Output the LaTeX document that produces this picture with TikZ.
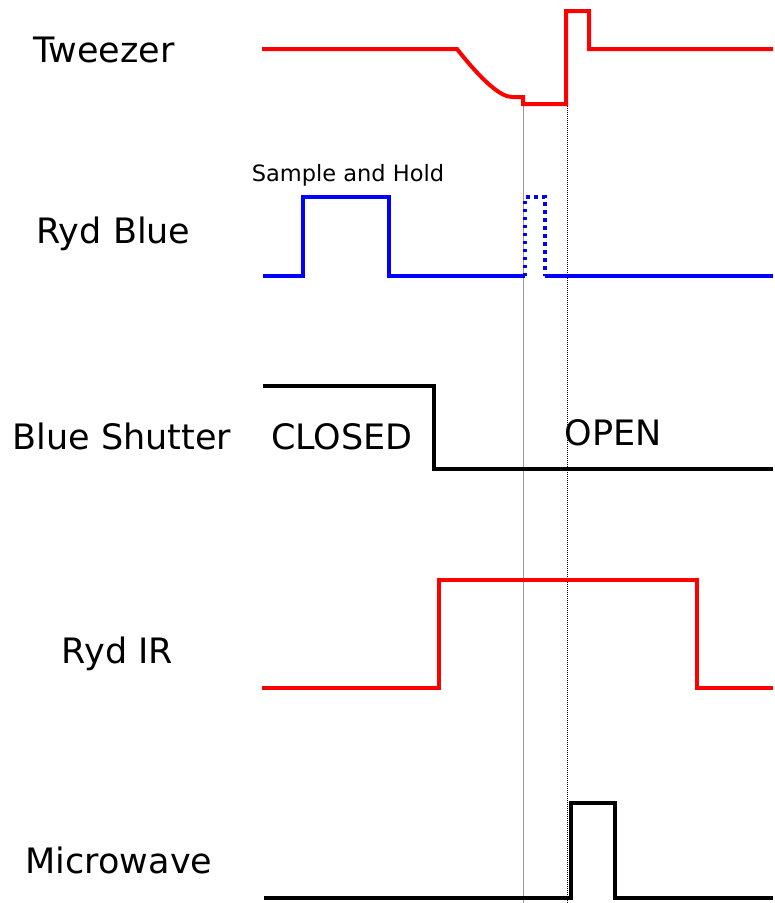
\documentclass[tikz,border=0pt]{standalone}
\usepackage{fontspec}
\setmainfont{DejaVu Sans}
\begin{document}
\begin{tikzpicture}[x=1pt,y=-1pt,
  trace/.style={line width=4pt, line join=miter},
  lbl/.style={font=\fontsize{35}{40}\selectfont, inner sep=0pt, anchor=base},
  small/.style={font=\fontsize{22.5}{26}\selectfont, inner sep=0pt, anchor=base},
  graymark/.style={line width=0.9pt, draw=black!40},
  dotmark/.style={line width=0.9pt, draw=black, dash pattern=on 1pt off 1pt}]
\useasboundingbox (0,0) rectangle (775,903);

% labels
\node[lbl] (tw) at (104,62) {Tweezer};
\node[lbl] (rb) at (113.5,243) {Ryd Blue};
\node[lbl] (bs) at (122,449) {Blue Shutter};
\node[lbl] (cl) at (342,449) {CLOSED};
\node[lbl] (op) at (613,445) {OPEN};
\node[lbl] (ir) at (117.5,663) {Ryd IR};
\node[lbl] (mw) at (119,873) {Microwave};
\node[small] (sh) at (348,181) {Sample and Hold};

% markers
\coordinate (g1) at (523,97);
\coordinate (g2) at (523,903);
\coordinate (d1) at (567,104);
\coordinate (d2) at (567,903);
\draw[graymark] (g1) -- (g2);
\draw[dotmark] (d1) -- (d2);

% Tweezer
\draw[trace, red] (262,49) -- (457,49) .. controls (482.3,81) and (500.7,97) .. (512,97) -- (523,97) -- (523,104) -- (566,104) -- (566,11) -- (589,11) -- (589,49) -- (773,49);

% Ryd Blue
\draw[trace, blue] (263,276) -- (303,276) -- (303,197) -- (389,197) -- (389,276) -- (525,276);
\draw[blue, line width=3.5pt, dash pattern=on 3.5pt off 4.5pt] (525,276) -- (525,197) -- (545,197) -- (545,276);
\draw[trace, blue] (545,276) -- (773,276);

% Blue Shutter
\draw[trace, black] (263,386) -- (434,386) -- (434,469) -- (773,469);

% Ryd IR
\draw[trace, red] (262,688) -- (439,688) -- (439,580) -- (697,580) -- (697,688) -- (773,688);

% Microwave
\draw[trace, black] (264,898) -- (571,898) -- (571,803) -- (615,803) -- (615,898) -- (773,898);
\end{tikzpicture}
\end{document}
